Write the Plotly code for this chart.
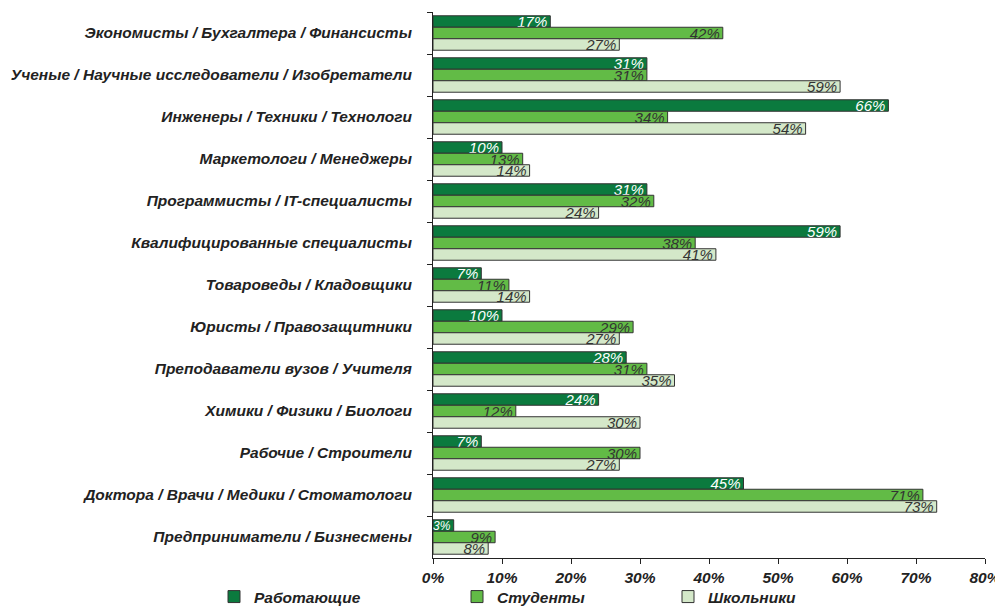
import plotly.graph_objects as go

categories = [
    "Экономисты / Бухгалтера / Финансисты",
    "Ученые / Научные исследователи / Изобретатели",
    "Инженеры / Техники / Технологи",
    "Маркетологи / Менеджеры",
    "Программисты / IT-специалисты",
    "Квалифицированные специалисты",
    "Товароведы / Кладовщики",
    "Юристы / Правозащитники",
    "Преподаватели вузов / Учителя",
    "Химики / Физики / Биологи",
    "Рабочие / Строители",
    "Доктора / Врачи / Медики / Стоматологи",
    "Предприниматели / Бизнесмены",
]
working = [17, 31, 66, 10, 31, 59, 7, 10, 28, 24, 7, 45, 3]
students = [42, 31, 34, 13, 32, 38, 11, 29, 31, 12, 30, 71, 9]
pupils = [27, 59, 54, 14, 24, 41, 14, 27, 35, 30, 27, 73, 8]
series_names = ["Работающие", "Студенты", "Школьники"]
x_ticks = [0, 10, 20, 30, 40, 50, 60, 70, 80]

colors = ["#0B7A3E", "#62BB46", "#D4E8C9"]
text_colors = ["#FFFFFF", "#333333", "#333333"]
FONT = "Liberation Sans, Arial, sans-serif"

# page body has an 8px margin; figure is sized/offset to compensate
OFF = 8
W, H = 995, 600
L, R, T, B = 425, 18, 4, 50

fig = go.Figure()
legend_ids = ["legend", "legend2", "legend3"]
for i, (name, vals) in enumerate(zip(series_names, [working, students, pupils])):
    sizes = [12 if v < 5 else 15 for v in vals]
    fig.add_trace(go.Bar(
        y=categories, x=vals, orientation="h", name=name,
        marker=dict(color=colors[i], line=dict(color="#333333", width=1)),
        text=[f"{v}%" for v in vals], textposition="inside",
        insidetextanchor="end", constraintext="none", cliponaxis=False,
        textfont=dict(family=FONT, size=sizes, color=text_colors[i], style="italic"),
        legend=legend_ids[i], hoverinfo="x+y",
    ))

leg_text_starts = [254, 497, 708]  # page px
leg_common = dict(
    orientation="h", yanchor="middle", xanchor="left",
    xref="container", yref="container",
    bgcolor="rgba(0,0,0,0)",
    font=dict(family=FONT, size=15.5, color="#222222", weight="bold", style="italic"),
)
leg_y = (H - (597 - OFF)) / H
fig.update_layout(
    width=W, height=H,
    margin=dict(l=L, r=R, t=T, b=B),
    paper_bgcolor="white", plot_bgcolor="white",
    showlegend=True,
    barmode="group", bargap=0.18, bargroupgap=0,
    legend=dict(x=(leg_text_starts[0] - OFF - 40) / W, y=leg_y, **leg_common),
    legend2=dict(x=(leg_text_starts[1] - OFF - 40) / W, y=leg_y, **leg_common),
    legend3=dict(x=(leg_text_starts[2] - OFF - 40) / W, y=leg_y, **leg_common),
    xaxis=dict(
        range=[0, 80], tickvals=x_ticks, ticktext=[f"{t}%" for t in x_ticks],
        showgrid=False, zeroline=False, showline=True, linecolor="#222222", linewidth=1,
        ticks="outside", ticklen=5, tickcolor="#222222", automargin=False,
        tickfont=dict(family=FONT, size=15.5, color="#222222", weight="bold", style="italic"),
    ),
    yaxis=dict(
        autorange="reversed", showgrid=False, zeroline=False,
        showline=True, linecolor="#222222", linewidth=1,
        ticks="outside", ticklen=5, tickcolor="#222222", tickson="boundaries",
        ticklabelstandoff=17, automargin=False,
        tickfont=dict(family=FONT, size=15.5, color="#222222", weight="bold", style="italic"),
    ),
)

fig.write_html("out.html")
